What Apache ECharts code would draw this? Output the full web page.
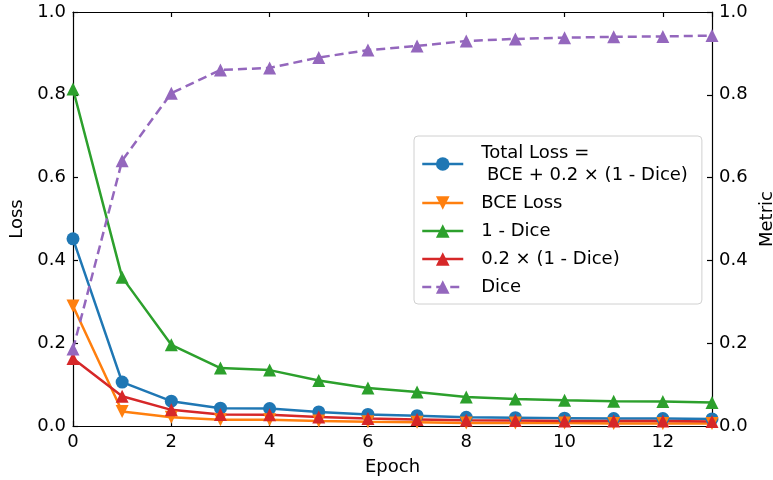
<!DOCTYPE html>
<html>
<head>
<meta charset="utf-8">
<script src="https://cdn.jsdelivr.net/npm/echarts@6/dist/echarts.min.js"></script>
<style>html,body{margin:0;padding:0;background:#fff}#c{width:773px;height:480px}</style>
</head>
<body>
<div id="c"></div>
<script>
const epochs = [0,1,2,3,4,5,6,7,8,9,10,11,12,13];
const totalLoss = [0.452,0.106,0.060,0.043,0.042,0.034,0.028,0.025,0.021,0.020,0.019,0.018,0.018,0.017];
const bceLoss   = [0.290,0.035,0.021,0.015,0.015,0.012,0.010,0.009,0.007,0.007,0.007,0.006,0.006,0.006];
const oneMinusDice = [0.814,0.359,0.196,0.140,0.135,0.110,0.092,0.082,0.070,0.065,0.062,0.060,0.059,0.057];
const scaledDice = [0.163,0.072,0.039,0.028,0.027,0.022,0.018,0.016,0.014,0.013,0.012,0.012,0.012,0.011];
const dice = [0.186,0.641,0.804,0.860,0.865,0.890,0.908,0.918,0.930,0.935,0.938,0.940,0.941,0.943];

const FONT = 'DejaVu Sans';
const FS = 18;
const pair = arr => arr.map((v,i)=>[epochs[i], v]);

const chart = echarts.init(document.getElementById('c'), null, {renderer:'canvas'});
const axisLine = {show:true, onZero:false, lineStyle:{color:'#000', width:1.2}};
const axisTick = {show:true, inside:true, length:5, lineStyle:{color:'#000', width:1.2}};
const lbl = {color:'#000', fontFamily:FONT, fontSize:FS};

function mk(name, data, color, symbol, opts) {
  return Object.assign({
    name, type:'line', data: pair(data), symbol, symbolSize: 13,
    lineStyle:{color, width:2.5}, itemStyle:{color},
    animation:false, z: 2
  }, opts||{});
}

chart.setOption({
  animation:false,
  textStyle:{fontFamily:FONT},
  grid:{left:73, right:61, top:12, bottom:54, outerBoundsMode:'none', containLabel:false},
  xAxis:[{
    type:'value', min:0, max:13, interval:2,
    name:'Epoch', nameLocation:'middle', nameGap:32,
    nameTextStyle:{color:'#000', fontFamily:FONT, fontSize:FS},
    axisLine, axisTick, splitLine:{show:false},
    axisLabel:Object.assign({margin:7, formatter:v => (v%2===0 ? String(v) : '')}, lbl)
  },{
    type:'value', min:0, max:13, interval:2, position:'top',
    axisLine, axisTick, splitLine:{show:false}, axisLabel:{show:false}
  }],
  yAxis:[{
    type:'value', min:0, max:1, interval:0.2, position:'left',
    name:'Loss', nameLocation:'middle', nameGap:42,
    nameTextStyle:{color:'#000', fontFamily:FONT, fontSize:FS},
    axisLine, axisTick, splitLine:{show:false},
    axisLabel:Object.assign({margin:7, formatter:v => v.toFixed(1)}, lbl)
  },{
    type:'value', min:0, max:1, interval:0.2, position:'right',
    name:'Metric', nameLocation:'middle', nameGap:44,
    nameTextStyle:{color:'#000', fontFamily:FONT, fontSize:FS},
    axisLine, axisTick, splitLine:{show:false},
    axisLabel:Object.assign({margin:7, formatter:v => v.toFixed(1)}, lbl)
  }],
  legend:{
    orient:'vertical', left:414, top:136,
    backgroundColor:'#fff', borderColor:'#d0d0d0', borderWidth:1, borderRadius:4,
    padding:[6,14,6,7], itemWidth:41, itemHeight:17, itemGap:6,
    lineStyle:{width:2.5},
    textStyle:{color:'#000', fontFamily:FONT, fontSize:FS, lineHeight:22, padding:[0,0,0,13]}
  },
  series:[
    mk('Total Loss =\n BCE + 0.2 × (1 - Dice)', totalLoss, '#1f77b4', 'circle'),
    mk('BCE Loss', bceLoss, '#ff7f0e', 'triangle', {symbolRotate:180}),
    mk('1 - Dice', oneMinusDice, '#2ca02c', 'triangle'),
    mk('0.2 × (1 - Dice)', scaledDice, '#d62728', 'triangle'),
    mk('Dice', dice, '#9467bd', 'triangle', {yAxisIndex:1, lineStyle:{color:'#9467bd', width:2.5, type:[9,5]}})
  ]
});
</script>
</body>
</html>
